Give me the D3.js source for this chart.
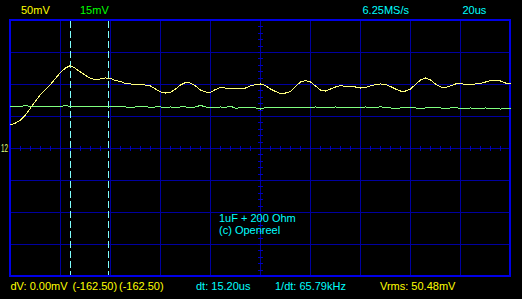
<!DOCTYPE html>
<html lang="en">
<head>
<meta charset="UTF-8">
<title>Scope capture</title>
<script src="https://d3js.org/d3.v7.min.js"></script>
<style>
  html, body { margin: 0; padding: 0; background: #000; overflow: hidden; }
  svg { display: block; background: #000; }
  text { font-family: "Liberation Sans", Arial, sans-serif; font-size: 11px; }
</style>
</head>
<body>
<svg width="522" height="299"></svg>
<script>
// scope settings
const timePerDiv = 20;      // us / div
const ch1PerDiv = 50;       // mV / div
const ch2PerDiv = 15;       // mV / div
const sampleStep = 2;       // us between plotted samples
const cursorTimes = [24, 39.2];

// channel 1 (yellow), mV, one value per 2us
const ch1 = [
  36.7, 39.8, 44.5, 52.3, 63.3, 74.2, 84.4, 92.2, 100.0, 109.4,
  118.8, 125.8, 129.7, 125.0, 119.5, 114.1, 109.4, 107.8, 108.6, 110.2,
  109.4, 106.3, 104.7, 101.6, 100.8, 100.0, 100.0, 99.2, 97.7, 93.0,
  88.3, 86.7, 87.5, 93.0, 99.2, 103.1, 102.3, 97.7, 91.4, 88.3,
  87.5, 92.2, 95.3, 94.5, 94.5, 94.5, 93.0, 94.5, 97.7, 100.0,
  100.8, 98.4, 93.0, 89.1, 85.9, 86.7, 89.1, 96.9, 103.9, 106.3,
  103.9, 97.7, 91.4, 89.8, 93.0, 96.1, 98.4, 96.9, 96.9, 96.1,
  94.5, 95.3, 97.7, 100.0, 100.8, 100.0, 96.9, 93.0, 89.8, 89.8,
  93.0, 100.0, 107.0, 110.2, 107.0, 100.8, 96.1, 95.3, 97.7, 100.8,
  101.6, 100.0, 100.0, 100.8, 101.6, 103.9, 106.3, 107.0, 105.5, 102.3,
  100.8
];

// channel 2 (green), mV
const ch2 = [
  19.7, 19.9, 19.7, 20.2, 19.7, 19.7, 19.5, 19.7, 19.7, 19.5,
  19.7, 20.2, 19.7, 19.5, 19.7, 19.9, 19.5, 19.7, 19.5, 19.7,
  19.7, 19.5, 19.5, 19.5, 19.2, 19.5, 19.5, 19.7, 19.2, 19.5,
  19.5, 19.2, 19.5, 19.2, 19.5, 19.5, 19.2, 19.5, 20.2, 19.5,
  19.2, 19.2, 19.5, 19.2, 19.9, 18.8, 19.2, 19.2, 19.2, 19.0,
  18.5, 19.2, 19.0, 19.2, 19.2, 19.2, 19.0, 19.2, 19.2, 19.0,
  19.2, 19.5, 19.0, 19.2, 19.0, 19.5, 19.0, 19.0, 19.2, 19.0,
  19.2, 19.5, 19.0, 19.0, 19.7, 19.0, 19.0, 18.8, 19.0, 19.2,
  19.0, 19.0, 18.8, 19.0, 19.2, 19.0, 19.0, 18.8, 19.0, 19.2,
  18.8, 18.8, 19.0, 18.8, 18.8, 19.0, 18.8, 18.8, 18.5, 18.8,
  18.8
];

const headerLabels = ["50mV", "15mV", "6.25MS/s", "20us"];
const noteLines = ["1uF + 200 Ohm", "(c) Openreel"];
const readouts = ["dV: 0.00mV", "(-162.50)", "(-162.50)", "dt: 15.20us", "1/dt: 65.79kHz", "Vrms: 50.48mV"];

const YELLOW = "#ffff00", GREEN = "#00ff00", CYAN = "#00ffff";

const svg = d3.select("svg");

const x = d3.scaleLinear().domain([0, 10 * timePerDiv]).range([10, 510]);
const y1 = d3.scaleLinear().domain([-4 * ch1PerDiv, 4 * ch1PerDiv]).range([276, 20]);
const y2 = d3.scaleLinear().domain([-4 * ch2PerDiv, 4 * ch2PerDiv]).range([276, 20]);

// grid
const grid = svg.append("g").attr("shape-rendering", "crispEdges");

grid.selectAll(".vline")
    .data(d3.range(1, 10).map(i => i * timePerDiv))
    .enter().append("line")
    .attr("x1", d => x(d) + 0.5).attr("x2", d => x(d) + 0.5)
    .attr("y1", 20).attr("y2", 276)
    .attr("stroke", "#0000a0");

grid.selectAll(".hline")
    .data(d3.range(-3, 4).map(i => i * ch1PerDiv))
    .enter().append("line")
    .attr("x1", 10).attr("x2", 510)
    .attr("y1", d => y1(d) + 0.5).attr("y2", d => y1(d) + 0.5)
    .attr("stroke", "#0000a0");

// minor ticks on the centre lines
const cx = x(5 * timePerDiv), cy = y1(0);
grid.selectAll(".xtick")
    .data(d3.range(0, 10 * timePerDiv, timePerDiv / 5))
    .enter().append("line")
    .attr("x1", d => x(d) + 0.5).attr("x2", d => x(d) + 0.5)
    .attr("y1", cy - 2).attr("y2", cy + 3)
    .attr("stroke", "#0000c0");

grid.selectAll(".ytick")
    .data(d3.range(-4 * ch1PerDiv, 4 * ch1PerDiv, ch1PerDiv / 5))
    .enter().append("line")
    .attr("x1", cx - 2).attr("x2", cx + 3)
    .attr("y1", d => Math.round(y1(d)) + 0.5).attr("y2", d => Math.round(y1(d)) + 0.5)
    .attr("stroke", "#0000c0");

grid.append("rect")
    .attr("x", 10).attr("y", 20)
    .attr("width", 500).attr("height", 256)
    .attr("fill", "none")
    .attr("stroke", "#0000e6")
    .attr("stroke-width", 2);

// cursors
svg.append("g").selectAll("line")
    .data(cursorTimes)
    .enter().append("line")
    .attr("x1", d => Math.round(x(d)) + 0.5).attr("x2", d => Math.round(x(d)) + 0.5)
    .attr("y1", 21).attr("y2", 275)
    .attr("stroke", "#80ffff")
    .attr("stroke-dasharray", "7,3")
    .attr("shape-rendering", "crispEdges");

// traces
const line1 = d3.line().x((d, i) => x(i * sampleStep) + 0.5).y(d => y1(d) + 0.5);
const line2 = d3.line().x((d, i) => x(i * sampleStep) + 0.5).y(d => y2(d) + 0.5);

svg.append("path").datum(ch2)
    .attr("d", line2)
    .attr("fill", "none")
    .attr("stroke", "#80ff80")
    .attr("stroke-width", 1)
    .attr("shape-rendering", "crispEdges");

svg.append("path").datum(ch1)
    .attr("d", line1)
    .attr("fill", "none")
    .attr("stroke", "#ffff80")
    .attr("stroke-width", 1)
    .attr("shape-rendering", "crispEdges");

// channel marker
svg.append("text")
    .attr("x", 1).attr("y", cy + 4)
    .attr("textLength", 7).attr("lengthAdjust", "spacingAndGlyphs")
    .attr("fill", "#e0ff80")
    .text("12");

// header
const headerX = [21, 80, 362.5, 462.5];
const headerC = [YELLOW, GREEN, CYAN, CYAN];
svg.selectAll(".hdr")
    .data(headerLabels)
    .enter().append("text")
    .attr("x", (d, i) => headerX[i]).attr("y", 13.5)
    .attr("fill", (d, i) => headerC[i])
    .text(d => d);

// note
svg.selectAll(".note")
    .data(noteLines)
    .enter().append("text")
    .attr("x", 219).attr("y", (d, i) => 222 + i * 11.5)
    .attr("fill", CYAN)
    .text(d => d);

// readouts
const readX = [10.5, 72.5, 119, 196, 275, 380];
const readC = [YELLOW, YELLOW, YELLOW, CYAN, CYAN, YELLOW];
svg.selectAll(".read")
    .data(readouts)
    .enter().append("text")
    .attr("x", (d, i) => readX[i]).attr("y", 290)
    .attr("fill", (d, i) => readC[i])
    .text(d => d);
</script>
</body>
</html>
